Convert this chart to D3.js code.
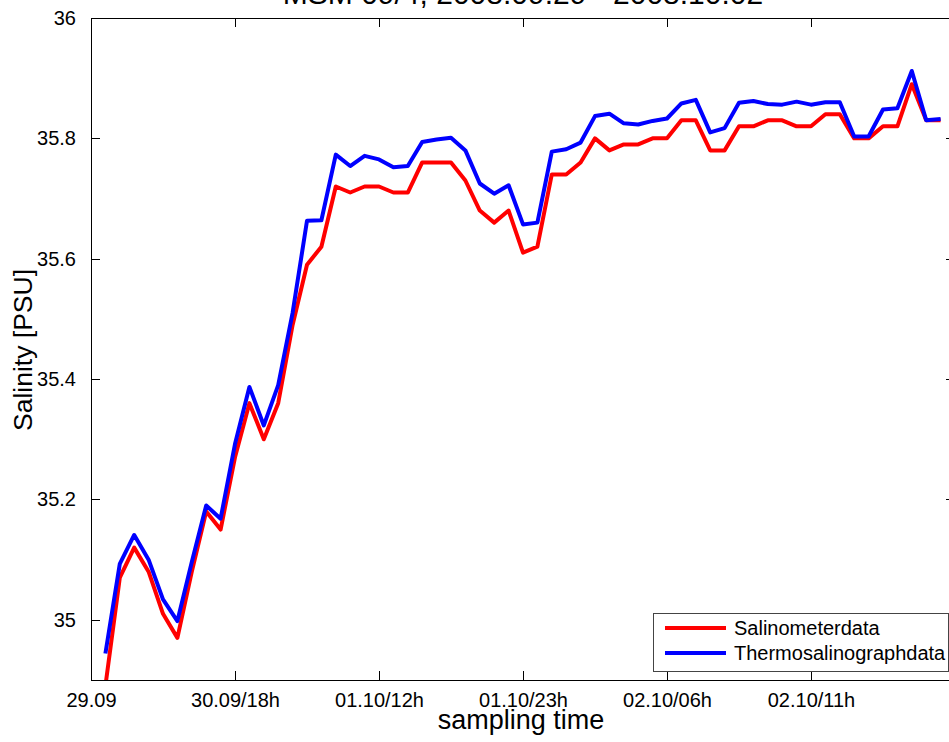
<!DOCTYPE html>
<html>
<head>
<meta charset="utf-8">
<script src="https://cdn.jsdelivr.net/npm/d3@7"></script>
<style>
  body { margin: 0; background: #fff; overflow: hidden; }
  text { font-family: "Liberation Sans", Arial, sans-serif; fill: #000; }
</style>
</head>
<body>
<svg id="chart"></svg>
<script>
// sample number of each measurement (x axis is the sample index)
const sampleIdx = d3.range(1, 60);

// Salinometer (bottle) data, 0.01 PSU resolution
const salinometer = [
  34.89, 35.07, 35.12, 35.08, 35.01, 34.97, 35.08, 35.18, 35.15, 35.27,
  35.36, 35.30, 35.36, 35.49, 35.59, 35.62, 35.72, 35.71, 35.72, 35.72,
  35.71, 35.71, 35.76, 35.76, 35.76, 35.73, 35.68, 35.66, 35.68, 35.61,
  35.62, 35.74, 35.74, 35.76, 35.80, 35.78, 35.79, 35.79, 35.80, 35.80,
  35.83, 35.83, 35.78, 35.78, 35.82, 35.82, 35.83, 35.83, 35.82, 35.82,
  35.84, 35.84, 35.80, 35.80, 35.82, 35.82, 35.89, 35.83, 35.83
];

// Thermosalinograph data at the same samples
const thermosalinograph = [
  34.944, 35.093, 35.141, 35.100, 35.034, 34.998, 35.096, 35.190, 35.168, 35.292,
  35.387, 35.323, 35.390, 35.510, 35.663, 35.664, 35.773, 35.754, 35.771, 35.765,
  35.752, 35.754, 35.794, 35.798, 35.801, 35.780, 35.725, 35.708, 35.722, 35.657,
  35.660, 35.778, 35.782, 35.793, 35.837, 35.841, 35.825, 35.823, 35.829, 35.833,
  35.858, 35.864, 35.810, 35.817, 35.859, 35.862, 35.857, 35.856, 35.861, 35.856,
  35.860, 35.860, 35.803, 35.803, 35.848, 35.850, 35.912, 35.830, 35.832
];

const xTickVals = [0, 10, 20, 30, 40, 50, 60];
const xTickLabels = ["29.09", "30.09/18h", "01.10/12h", "01.10/23h", "02.10/06h", "02.10/11h", ""];
const yTickVals = [35, 35.2, 35.4, 35.6, 35.8, 36];

const seriesNames = ["Salinometerdata", "Thermosalinographdata"];
const seriesColors = ["#ff0000", "#0000ff"];

class SalinityPlot {
  constructor(_config) {
    this.config = {
      parentElement: _config.parentElement,
      containerWidth: 949,
      containerHeight: 742,
      margin: { top: 18, bottom: 62, right: -6, left: 91 }
    };
    this.initVis();
  }

  initVis() {
    let vis = this;
    const m = vis.config.margin;
    vis.width = vis.config.containerWidth - m.left - m.right;
    vis.height = vis.config.containerHeight - m.top - m.bottom;

    vis.svg = d3.select(vis.config.parentElement)
      .attr('width', vis.config.containerWidth)
      .attr('height', vis.config.containerHeight);

    vis.chart = vis.svg.append('g')
      .attr('transform', `translate(${m.left},${m.top})`);

    vis.xScale = d3.scaleLinear().domain([0, 60]).range([0, vis.width]);
    vis.yScale = d3.scaleLinear().domain([34.9, 36]).range([vis.height, 0]);

    vis.line = d3.line()
      .x(d => vis.xScale(d.x))
      .y(d => vis.yScale(d.y));

    vis.renderVis();
  }

  renderVis() {
    let vis = this;
    const w = vis.width, h = vis.height;

    vis.svg.append('defs').append('clipPath').attr('id', 'plot-clip')
      .append('rect').attr('width', w).attr('height', h);

    // data lines, red first so blue sits on top
    [salinometer, thermosalinograph].forEach((vals, k) => {
      const pts = vals.map((v, i) => ({ x: sampleIdx[i], y: v }));
      vis.chart.append('path')
        .attr('clip-path', 'url(#plot-clip)')
        .attr('d', vis.line(pts))
        .attr('fill', 'none')
        .attr('stroke', seriesColors[k])
        .attr('stroke-width', 4)
        .attr('stroke-linejoin', 'round');
    });

    // axes: MATLAB style box with ticks pointing inwards
    const tick = 9;
    const xAxis = d3.axisBottom(vis.xScale).tickValues(xTickVals)
      .tickSize(-tick).tickPadding(13)
      .tickFormat((d, i) => xTickLabels[i]);
    const xTop = d3.axisTop(vis.xScale).tickValues(xTickVals)
      .tickSize(-tick).tickFormat('');
    const yAxis = d3.axisLeft(vis.yScale).tickValues(yTickVals)
      .tickSize(-tick).tickPadding(15).tickFormat(d3.format('~g'));
    const yRight = d3.axisRight(vis.yScale).tickValues(yTickVals)
      .tickSize(-tick).tickFormat('');

    const gx = vis.chart.append('g').attr('transform', `translate(0,${h})`).call(xAxis);
    const gxt = vis.chart.append('g').call(xTop);
    const gy = vis.chart.append('g').call(yAxis);
    const gyr = vis.chart.append('g').attr('transform', `translate(${w},0)`).call(yRight);

    [gx, gxt, gy, gyr].forEach(g => {
      g.select('.domain').attr('stroke', '#000').attr('d', null);
      g.selectAll('line').attr('stroke', '#000').attr('shape-rendering', 'crispEdges');
      g.selectAll('text').style('font-size', '20px')
        .style('font-family', '"Liberation Sans", Arial, sans-serif').attr('fill', '#000');
    });
    // plain box frame
    vis.chart.append('rect')
      .attr('width', w).attr('height', h)
      .attr('fill', 'none').attr('stroke', '#000')
      .attr('shape-rendering', 'crispEdges');
    gx.selectAll('.domain').remove();
    gxt.selectAll('.domain').remove();
    gy.selectAll('.domain').remove();
    gyr.selectAll('.domain').remove();

    // title (mostly above the window, only its lower edge shows)
    vis.chart.append('text')
      .attr('x', w / 2).attr('y', -14)
      .attr('text-anchor', 'middle')
      .style('font-size', '30px')
      .text('MSM 09/4, 2008.09.29 - 2008.10.02');

    vis.chart.append('text')
      .attr('x', vis.xScale(30) - 2).attr('y', h + 49)
      .attr('text-anchor', 'middle')
      .style('font-size', '27px')
      .text('sampling time');

    vis.chart.append('text')
      .attr('transform', `translate(${32 - 91},${h / 2 + 1}) rotate(-90)`)
      .attr('text-anchor', 'middle')
      .style('font-size', '26.5px')
      .text('Salinity [PSU]');

    // legend box in the lower right corner
    const lg = vis.chart.append('g').attr('transform', `translate(${653 - 91},${613 - 18})`);
    lg.append('rect')
      .attr('width', 295).attr('height', 58)
      .attr('fill', '#fff').attr('stroke', '#444')
      .attr('shape-rendering', 'crispEdges');
    seriesNames.forEach((name, k) => {
      const yy = 15 + k * 25;
      lg.append('line')
        .attr('x1', 12).attr('x2', 73).attr('y1', yy).attr('y2', yy)
        .attr('stroke', seriesColors[k]).attr('stroke-width', 4);
      lg.append('text')
        .attr('x', 81).attr('y', yy + 7)
        .style('font-size', '20px')
        .text(name);
    });
  }
}

new SalinityPlot({ parentElement: '#chart' });
</script>
</body>
</html>
